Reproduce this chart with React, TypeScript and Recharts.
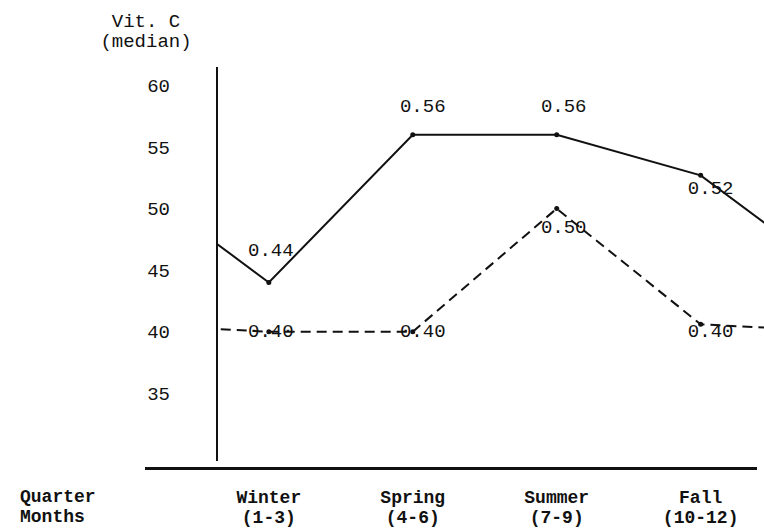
import { LineChart, Line, XAxis, YAxis, LabelList } from "recharts";

const quarters = ["Winter", "Spring", "Summer", "Fall"];
const months = ["(1-3)", "(4-6)", "(7-9)", "(10-12)"];
const upperValues = [44, 56, 56, 52.7];
const upperLabels = ["0.44", "0.56", "0.56", "0.52"];
const lowerValues = [40, 40, 50, 40.6];
const lowerLabels = ["0.40", "0.40", "0.50", "0.40"];
const yTicks = [35, 40, 45, 50, 55, 60];

const FONT = "'Liberation Mono', 'DejaVu Sans Mono', monospace";
const INK = "#111";

// label nudges (style only)
const UPPER_DX = [2, 10, 7, 10];
const UPPER_DY = [-31, -28, -28, 14];
const LOWER_DX = [2, 10, 7, 10];
const LOWER_DY = [0, 0, 19, 8];

// the chart is cyclic: Fall of the year before runs in from the left, Winter of next year runs out on the right
const n = quarters.length;
const rows = [];
for (let i = -1; i <= n; i++) {
  const k = (i + n) % n;
  rows.push({
    pos: i,
    upper: upperValues[k],
    lower: lowerValues[k],
    upperLabel: upperLabels[k],
    lowerLabel: lowerLabels[k],
  });
}

const QuarterTick = (props: any) => {
  const { x, y, payload } = props;
  const i = payload.value;
  return (
    <g>
      <text x={x} y={y + 42} textAnchor="middle" fontFamily={FONT} fontSize={18} fontWeight="bold" fill={INK}>
        {quarters[i]}
      </text>
      <text x={x} y={y + 62} textAnchor="middle" fontFamily={FONT} fontSize={18} fontWeight="bold" fill={INK}>
        {months[i]}
      </text>
    </g>
  );
};

const makeLabel = (dxs: number[], dys: number[]) => (props: any) => {
  const { x, y, value, index } = props;
  const q = index - 1;
  if (q < 0 || q >= n) return null;
  return (
    <text
      x={x + dxs[q]}
      y={y + dys[q]}
      textAnchor="middle"
      dominantBaseline="central"
      fontFamily={FONT}
      fontSize={19}
      fill={INK}
    >
      {value}
    </text>
  );
};

const App = () => {
  return (
    <div style={{ position: "absolute", left: 0, top: 0, width: 764, height: 529, background: "#fff" }}>
      <LineChart width={764} height={529} data={rows} margin={{ top: 67, right: 0, bottom: 0, left: 0 }}>
        <XAxis
          dataKey="pos"
          type="number"
          domain={[-0.36, 3.44]}
          allowDataOverflow
          ticks={[0, 1, 2, 3]}
          interval={0}
          axisLine={false}
          tickLine={false}
          tickSize={0}
          tickMargin={0}
          height={68}
          tick={<QuarterTick />}
        />
        <YAxis
          type="number"
          domain={[29.5, 61.5]}
          allowDataOverflow
          ticks={yTicks}
          width={217}
          tickLine={false}
          tickSize={0}
          tickMargin={47}
          axisLine={{ stroke: INK, strokeWidth: 2 }}
          tick={{ fontFamily: FONT, fontSize: 19, fill: INK }}
        />
        <Line
          dataKey="upper"
          type="linear"
          stroke={INK}
          strokeWidth={2}
          dot={{ r: 2.5, fill: INK, stroke: INK, strokeWidth: 0 }}
          isAnimationActive={false}
        >
          <LabelList dataKey="upperLabel" content={makeLabel(UPPER_DX, UPPER_DY)} />
        </Line>
        <Line
          dataKey="lower"
          type="linear"
          stroke={INK}
          strokeWidth={2}
          strokeDasharray="10 6"
          dot={{ r: 2.5, fill: INK, stroke: INK, strokeWidth: 0 }}
          isAnimationActive={false}
        >
          <LabelList dataKey="lowerLabel" content={makeLabel(LOWER_DX, LOWER_DY)} />
        </Line>
      </LineChart>
      {/* baseline running under the whole chart */}
      <div style={{ position: "absolute", left: 145, top: 467, width: 612, height: 3, background: INK }} />
      <div
        style={{
          position: "absolute",
          left: 86,
          top: 12,
          width: 120,
          textAlign: "center",
          fontFamily: FONT,
          fontSize: 19,
          lineHeight: "20px",
          color: INK,
        }}
      >
        <div>Vit. C</div>
        <div>(median)</div>
      </div>
      <div
        style={{
          position: "absolute",
          left: 20,
          top: 487,
          fontFamily: FONT,
          fontSize: 18,
          fontWeight: "bold",
          lineHeight: "20px",
          color: INK,
        }}
      >
        <div>Quarter</div>
        <div>Months</div>
      </div>
    </div>
  );
};

export default App;
